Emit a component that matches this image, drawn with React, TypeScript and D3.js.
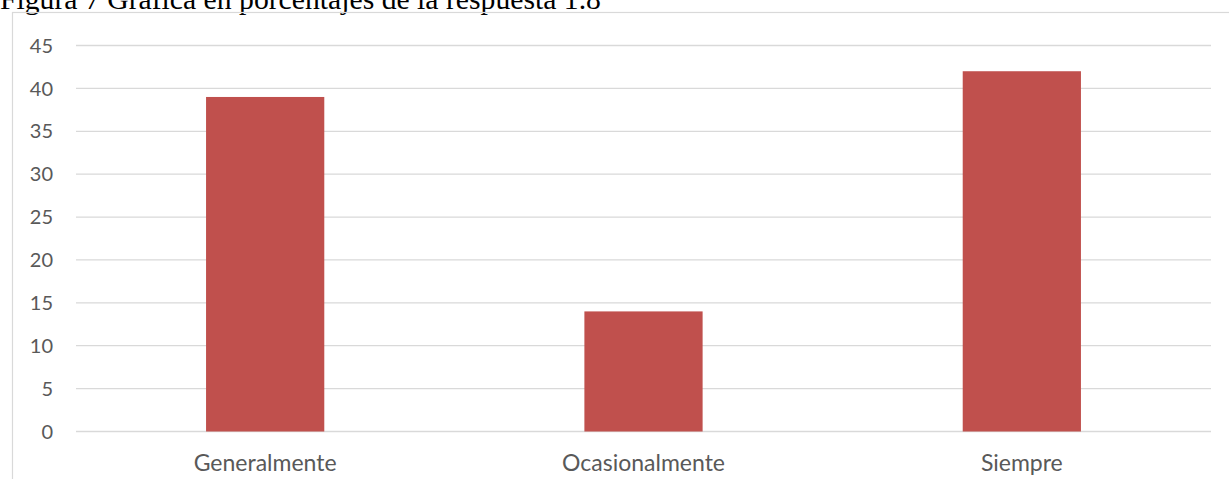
import React from "react";
import * as d3 from "d3";

const title = "Figura 7 Gráfica en porcentajes de la respuesta 1.8";
const categories = ["Generalmente", "Ocasionalmente", "Siempre"];
const values = [39, 14, 42];
const yTicks = [0, 5, 10, 15, 20, 25, 30, 35, 40, 45];

export default function App() {
  const W = 1229;
  const H = 479;
  const plotLeft = 76;
  const plotRight = 1211;
  const yTop = 45.5;
  const yBottom = 431.5;

  const x = d3.scaleBand<string>().domain(categories).range([plotLeft, plotRight]).padding(0);
  const y = d3.scaleLinear().domain([0, 45]).range([yBottom, yTop]);
  const barW = x.bandwidth() * 0.3125;
  const font = "Lato, 'Open Sans', sans-serif";

  return (
    <svg
      width={W}
      height={H}
      style={{ position: "absolute", left: 0, top: 0, background: "#fff" }}
    >
      <text x={0} y={8.5} fontFamily="'Liberation Serif', 'Times New Roman', serif" fontSize={29.7} fill="#000">
        {title}
      </text>
      <rect x={12.5} y={12.5} width={W + 20} height={H + 20} fill="none" stroke="#d9d9d9" strokeWidth={1.2} />
      {yTicks.map((t) => (
        <g key={t}>
          <line x1={plotLeft} x2={plotRight} y1={y(t)} y2={y(t)} stroke="#d9d9d9" strokeWidth={1.3} />
          <text
            x={53}
            y={y(t)}
            dy="0.36em"
            textAnchor="end"
            fontFamily={font}
            fontSize={20}
            fill="#595959"
          >
            {t}
          </text>
        </g>
      ))}
      {categories.map((c, i) => (
        <g key={c}>
          <rect
            x={(x(c) as number) + x.bandwidth() / 2 - barW / 2}
            y={y(values[i])}
            width={barW}
            height={y(0) - y(values[i])}
            fill="#c0504d"
          />
          <text
            x={(x(c) as number) + x.bandwidth() / 2}
            y={471}
            textAnchor="middle"
            fontFamily={font}
            fontSize={23}
            fill="#595959"
          >
            {c}
          </text>
        </g>
      ))}
    </svg>
  );
}
